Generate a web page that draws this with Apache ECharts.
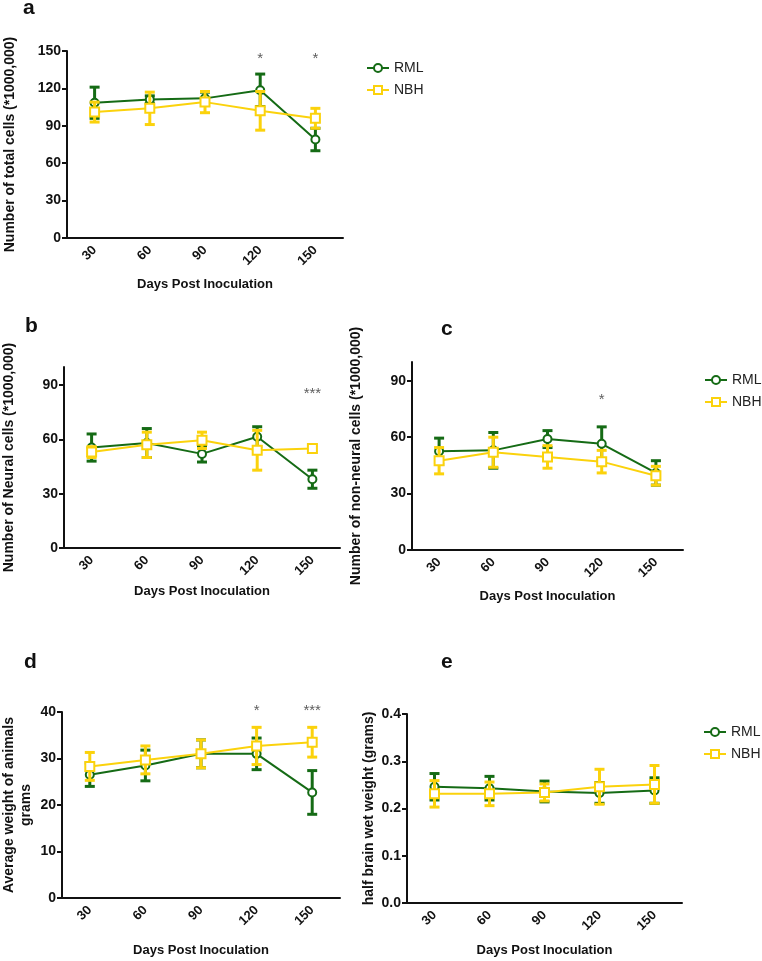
<!DOCTYPE html>
<html>
<head>
<meta charset="utf-8">
<script src="https://cdn.jsdelivr.net/npm/echarts@6/dist/echarts.min.js"></script>
<style>
  html, body { margin: 0; padding: 0; background: #fff; }
  #chart { width: 762px; height: 961px; }
</style>
</head>
<body>
<div id="chart"></div>
<script>
// 横轴：接种后天数
const days = ['30', '60', '90', '120', '150']

// a 总细胞数
const totalRML = [108.5, 111, 112, 118.5, 79]
const totalRMLErr = [12.5, 3, 5, 13, 9]
const totalNBH = [101, 104, 109, 102, 96]
const totalNBHErr = [8, 13, 8.5, 15.5, 8]
const sigA = [[3, 144, '*'], [4, 144, '*']]

// b 神经细胞
const neuralRML = [55.5, 58, 52, 61.5, 38]
const neuralRMLErr = [7.5, 8, 4.5, 5.5, 5]
const neuralNBH = [53, 57, 59.5, 54, 55]
const neuralNBHErr = [3, 7, 4.5, 11, 1.5]
const sigB = [[4, 85, '***']]

// c 非神经细胞
const nonNeuralRML = [52.5, 53, 59, 56.5, 41]
const nonNeuralRMLErr = [7, 9.5, 4.5, 9, 6.5]
const nonNeuralNBH = [47.5, 52, 49.5, 47, 39.5]
const nonNeuralNBHErr = [7, 8, 6, 6, 5]
const sigC = [[3, 80, '*']]

// d 体重
const weightRML = [26.5, 28.5, 31, 31, 22.7]
const weightRMLErr = [2.5, 3.3, 3, 3.4, 4.7]
const weightNBH = [28.3, 29.7, 31, 32.7, 33.5]
const weightNBHErr = [3, 3, 3, 4, 3.2]
const sigD = [[3, 40.2, '*'], [4, 40.2, '***']]

// e 半脑湿重
const brainRML = [0.246, 0.243, 0.236, 0.233, 0.238]
const brainRMLErr = [0.028, 0.025, 0.022, 0.022, 0.027]
const brainNBH = [0.231, 0.231, 0.234, 0.246, 0.251]
const brainNBHErr = [0.028, 0.025, 0.018, 0.037, 0.04]

const GREEN = '#156b15'
const YELLOW = '#fbd20c'
const FONT = 'Liberation Sans, Arial, sans-serif'

// 误差棒
function errorBar(params, api) {
  const x = api.value(0)
  const lo = api.coord([x, api.value(1)])
  const hi = api.coord([x, api.value(2)])
  const w = 5
  const style = { stroke: api.visual('color'), lineWidth: 3, fill: null }
  return {
    type: 'group',
    children: [
      { type: 'line', shape: { x1: hi[0] - w, y1: hi[1], x2: hi[0] + w, y2: hi[1] }, style },
      { type: 'line', shape: { x1: hi[0], y1: hi[1], x2: lo[0], y2: lo[1] }, style },
      { type: 'line', shape: { x1: lo[0] - w, y1: lo[1], x2: lo[0] + w, y2: lo[1] }, style }
    ]
  }
}

function bars(mean, err) {
  return mean.map((m, i) => [i, m - err[i], m + err[i]])
}

const panels = [
  { grid: { left: 67, top: 51, width: 276, height: 187 }, min: 0, max: 150, interval: 30,
    yName: 'Number of total cells (*1000,000)', yGap: 48, xGap: 40,
    rml: totalRML, rmlErr: totalRMLErr, nbh: totalNBH, nbhErr: totalNBHErr, sig: sigA },
  { grid: { left: 64, top: 367, width: 276, height: 181 }, min: 0, max: 100, interval: 30, custom: [0, 30, 60, 90],
    yName: 'Number of Neural cells (*1000,000)', yGap: 46, xGap: 37,
    rml: neuralRML, rmlErr: neuralRMLErr, nbh: neuralNBH, nbhErr: neuralNBHErr, sig: sigB },
  { grid: { left: 412, top: 362, width: 271, height: 188 }, min: 0, max: 100, interval: 30, custom: [0, 30, 60, 90],
    yName: 'Number of non-neural cells (*1000,000)', yGap: 47, xGap: 40,
    rml: nonNeuralRML, rmlErr: nonNeuralRMLErr, nbh: nonNeuralNBH, nbhErr: nonNeuralNBHErr, sig: sigC },
  { grid: { left: 60, top: 712, width: 280, height: 186 }, min: 0, max: 40, interval: 10,
    yName: 'Average weight of animals\ngrams', yGap: 27, xGap: 46,
    rml: weightRML, rmlErr: weightRMLErr, nbh: weightNBH, nbhErr: weightNBHErr, sig: sigD },
  { grid: { left: 407, top: 714, width: 275, height: 189 }, min: 0, max: 0.4, interval: 0.1, decimals: 1,
    yName: 'half brain wet weight (grams)', yGap: 29, xGap: 41,
    rml: brainRML, rmlErr: brainRMLErr, nbh: brainNBH, nbhErr: brainNBHErr, sig: [] }
]

const grid = []
const xAxis = []
const yAxis = []
const series = []

panels.forEach((p, i) => {
  grid.push(p.grid)
  xAxis.push({
    type: 'category',
    gridIndex: i,
    data: days,
    boundaryGap: true,
    name: 'Days Post Inoculation',
    nameLocation: 'middle',
    nameGap: p.xGap,
    nameTextStyle: { fontFamily: FONT, fontWeight: 'bold', fontSize: 13, color: '#111' },
    axisLine: { lineStyle: { color: '#111', width: 2 } },
    axisTick: { alignWithLabel: true, length: 5, lineStyle: { width: 2, color: '#111' } },
    axisLabel: { rotate: 45, fontFamily: FONT, fontWeight: 'bold', fontSize: 13, color: '#111', margin: 10 }
  })
  const y = {
    type: 'value',
    gridIndex: i,
    min: p.min,
    max: p.max,
    interval: p.interval,
    name: p.yName,
    nameLocation: 'middle',
    nameGap: p.yGap,
    nameTextStyle: { fontFamily: FONT, fontWeight: 'bold', fontSize: 14, color: '#111', lineHeight: 17 },
    splitLine: { show: false },
    axisLine: { show: true, lineStyle: { color: '#111', width: 2 } },
    axisTick: { show: true, length: 5, lineStyle: { width: 2, color: '#111' } },
    axisLabel: {
      fontFamily: FONT, fontWeight: 'bold', fontSize: 14, color: '#111', margin: 6,
      formatter: p.decimals ? (v) => v.toFixed(p.decimals) : null
    }
  }
  if (p.custom) {
    y.axisTick.customValues = p.custom
    y.axisLabel.customValues = p.custom
  }
  yAxis.push(y)

  // 折线放在前面，图例取折线的样式
  series.push({
    name: 'RML', type: 'line', xAxisIndex: i, yAxisIndex: i,
    data: p.rml, symbol: 'emptyCircle', symbolSize: 8,
    lineStyle: { color: GREEN, width: 2 },
    itemStyle: { color: GREEN, borderWidth: 2 }, z: 3
  })
  series.push({
    name: 'NBH', type: 'line', xAxisIndex: i, yAxisIndex: i,
    data: p.nbh, symbol: 'emptyRect', symbolSize: 9,
    lineStyle: { color: YELLOW, width: 2 },
    itemStyle: { color: YELLOW, borderWidth: 2 }, z: 5
  })
  series.push({
    name: 'RML', type: 'custom', xAxisIndex: i, yAxisIndex: i,
    renderItem: errorBar, encode: { x: 0, y: [1, 2] },
    itemStyle: { color: GREEN }, data: bars(p.rml, p.rmlErr), z: 2
  })
  series.push({
    name: 'NBH', type: 'custom', xAxisIndex: i, yAxisIndex: i,
    renderItem: errorBar, encode: { x: 0, y: [1, 2] },
    itemStyle: { color: YELLOW }, data: bars(p.nbh, p.nbhErr), z: 4
  })
  if (p.sig.length) {
    series.push({
      name: 'sig', type: 'scatter', xAxisIndex: i, yAxisIndex: i,
      data: p.sig, symbolSize: 1, clip: false, silent: true,
      itemStyle: { color: 'rgba(0,0,0,0)' },
      label: {
        show: true, position: 'inside', formatter: (d) => d.data[2],
        fontFamily: FONT, fontSize: 15, color: '#333'
      }
    })
  }
})

function legendAt(left, top) {
  return {
    left, top, orient: 'vertical', data: ['RML', 'NBH'],
    itemWidth: 22, itemHeight: 10, itemGap: 8,
    textStyle: { fontFamily: FONT, fontSize: 14, color: '#222' },
    selectedMode: false
  }
}

function letter(text, left, top) {
  return {
    type: 'text', left, top,
    style: { text, fontFamily: FONT, fontWeight: 'bold', fontSize: 21, fill: '#111' }
  }
}

const chart = echarts.init(document.getElementById('chart'))
chart.setOption({
  animation: false,
  backgroundColor: '#fff',
  grid,
  xAxis,
  yAxis,
  series,
  legend: [legendAt(361, 56), legendAt(699, 368), legendAt(698, 720)],
  graphic: [
    letter('a', 23, -2),
    letter('b', 25, 316),
    letter('c', 441, 319),
    letter('d', 24, 652),
    letter('e', 441, 652)
  ]
})
</script>
</body>
</html>
